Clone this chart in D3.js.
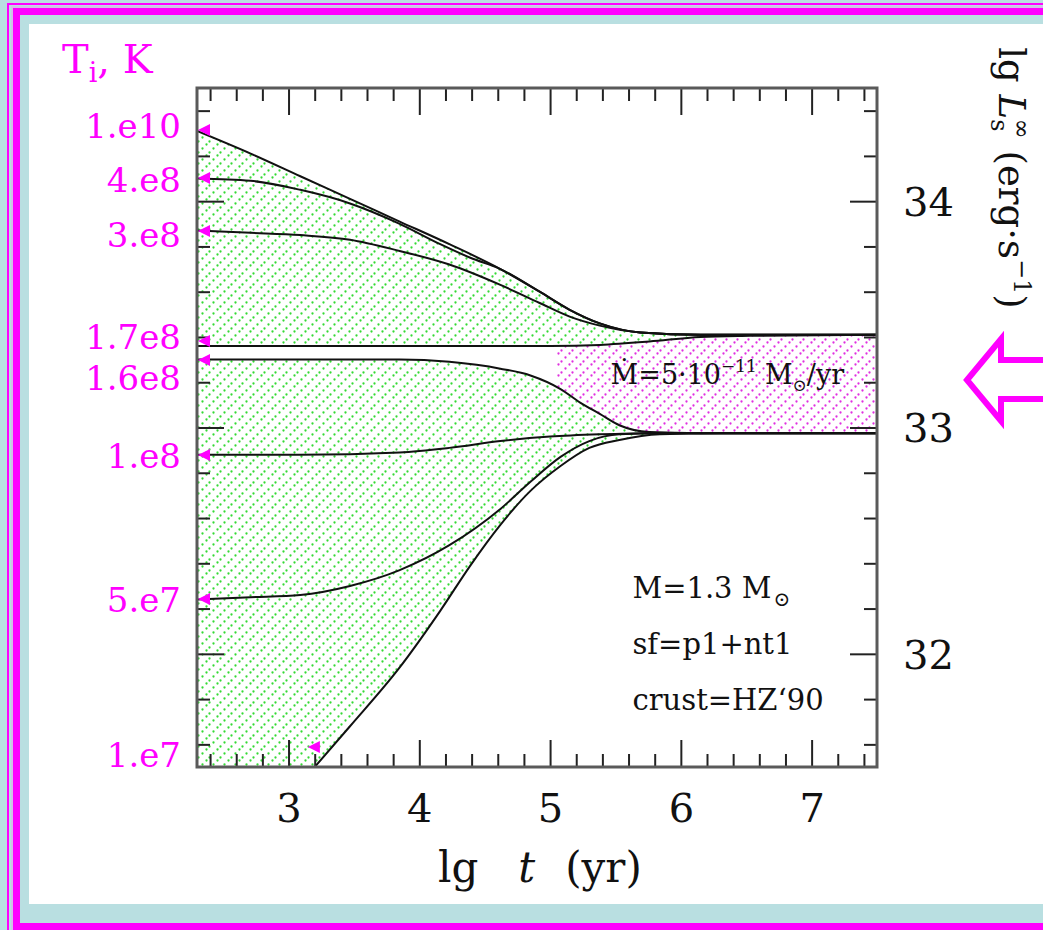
<!DOCTYPE html>
<html>
<head>
<meta charset="utf-8">
<script src="https://cdn.jsdelivr.net/npm/d3@7"></script>
<style>
html, body { margin: 0; padding: 0; background: #b9dfe1; }
svg { display: block; font-family: "DejaVu Serif", serif; }
</style>
</head>
<body>
<svg id="drawing_region"></svg>
<script>
// lg t (yr) on x, lg Ls (erg/s) on y
const xTicks = [3, 4, 5, 6, 7];
const yTicks = [32, 33, 34];

const tiLabels = ["1.e10", "4.e8", "3.e8", "1.7e8", "1.6e8", "1.e8", "5.e7", "1.e7"];
const tiLabelL = [34.334, 34.093, 33.85, 33.40, 33.219, 32.874, 32.237, 31.553];
const tiMarkT  = [2.30, 2.30, 2.30, 2.30, 2.30, 2.30, 2.30, 3.14];
const tiMarkL  = [34.314, 34.102, 33.868, 33.382, 33.298, 32.878, 32.242, 31.588];

const t_1e10 = [2.30, 2.71, 3.09, 3.47, 3.85, 4.23, 4.62, 4.92, 5.15, 5.38, 5.69, 6.15, 7.50];
const L_1e10 = [34.31, 34.21, 34.11, 34.01, 33.91, 33.81, 33.70, 33.60, 33.52, 33.46, 33.42, 33.41, 33.41];
const t_4e8  = [2.30, 2.71, 3.09, 3.47, 3.85, 4.16, 4.39, 4.62, 4.92, 5.15, 5.38, 5.69, 6.15, 7.50];
const L_4e8  = [34.10, 34.09, 34.05, 33.99, 33.90, 33.81, 33.75, 33.70, 33.60, 33.52, 33.46, 33.42, 33.41, 33.41];
const t_3e8  = [2.30, 2.71, 3.09, 3.47, 3.85, 4.23, 4.62, 4.92, 5.15, 5.38, 5.69, 6.15, 7.50];
const L_3e8  = [33.87, 33.86, 33.85, 33.83, 33.78, 33.72, 33.63, 33.55, 33.49, 33.45, 33.42, 33.41, 33.41];
const t_17e8 = [2.30, 3.00, 4.00, 5.00, 5.38, 5.76, 6.15, 6.53, 7.50];
const L_17e8 = [33.36, 33.36, 33.36, 33.36, 33.365, 33.38, 33.40, 33.405, 33.41];
const t_16e8 = [2.30, 3.09, 3.85, 4.23, 4.62, 4.85, 5.08, 5.23, 5.38, 5.53, 5.76, 6.15, 7.50];
const L_16e8 = [33.30, 33.30, 33.30, 33.29, 33.26, 33.23, 33.17, 33.11, 33.06, 33.01, 32.98, 32.975, 32.975];
const t_1e8  = [2.30, 3.09, 3.85, 4.23, 4.62, 5.00, 5.38, 5.76, 7.50];
const L_1e8  = [32.88, 32.88, 32.89, 32.91, 32.94, 32.96, 32.97, 32.975, 32.975];
const t_5e7  = [2.30, 2.71, 3.09, 3.47, 3.85, 4.23, 4.62, 4.85, 5.08, 5.30, 5.53, 5.84, 7.50];
const L_5e7  = [32.24, 32.25, 32.26, 32.30, 32.37, 32.48, 32.64, 32.76, 32.87, 32.94, 32.97, 32.975, 32.975];
const t_1e7  = [3.20, 3.47, 3.85, 4.16, 4.39, 4.62, 4.85, 5.08, 5.30, 5.53, 5.84, 6.30, 7.50];
const L_1e7  = [31.50, 31.68, 31.94, 32.19, 32.39, 32.57, 32.72, 32.83, 32.91, 32.945, 32.97, 32.975, 32.975];

const accretionStartT = 5.05;
const legendLines = ["M=1.3 M", "sf=p1+nt1", "crust=HZ\u201890"];

const W = 1043, H = 930;
const margin = {top: 88, left: 197, right: 166, bottom: 163};
const w = W - margin.left - margin.right;
const h = H - margin.top - margin.bottom;
const MAG = "#ff00ff";

const svg = d3.select('#drawing_region').attr('width', W).attr('height', H);

// page frame
svg.append('rect').attr('width', W).attr('height', H).attr('fill', '#b9dfe1');
svg.append('rect').attr('x', 8).attr('y', 4).attr('width', 1200).attr('height', 1100)
    .attr('fill', 'none').attr('stroke', MAG).attr('stroke-width', 2);
svg.append('rect').attr('x', 12).attr('y', 7).attr('width', 1200).attr('height', 1100)
    .attr('fill', 'none').attr('stroke', '#dcb4ea').attr('stroke-width', 1.5);
svg.append('rect').attr('x', 16.5).attr('y', 11.5).attr('width', 1200).attr('height', 915)
    .attr('fill', 'none').attr('stroke', MAG).attr('stroke-width', 7);
svg.append('rect').attr('x', 29).attr('y', 24).attr('width', 1100).attr('height', 880).attr('fill', '#fff');

const defs = svg.append('defs');
function dotPattern(id, color) {
    const p = defs.append('pattern').attr('id', id).attr('patternUnits', 'userSpaceOnUse')
        .attr('width', 11).attr('height', 11);
    [[1.5, 9.5], [5.5, 5.5], [9.5, 1.5]].forEach(c => {
        p.append('circle').attr('cx', c[0]).attr('cy', c[1]).attr('r', 1.15).attr('fill', color);
    });
}
dotPattern('dotsGreen', '#35d935');
dotPattern('dotsPink', '#e030e0');

const x = d3.scaleLinear().domain([2.3, 7.5]).range([0, w]);
const y = d3.scaleLinear().domain([31.5, 34.5]).range([h, 0]);

const chart = svg.append('g').attr('transform', `translate(${margin.left},${margin.top})`);

const zip = (ts, ls) => ts.map((t, i) => ({t: t, L: ls[i]}));
const curves = [
    zip(t_1e10, L_1e10), zip(t_4e8, L_4e8), zip(t_3e8, L_3e8), zip(t_17e8, L_17e8),
    zip(t_16e8, L_16e8), zip(t_1e8, L_1e8), zip(t_5e7, L_5e7), zip(t_1e7, L_1e7)
];

const line = d3.line().x(d => x(d.t)).y(d => y(d.L)).curve(d3.curveMonotoneX);
const areaAbove = d3.area().x(d => x(d.t)).y0(0).y1(d => y(d.L)).curve(d3.curveMonotoneX);
const areaBelow = d3.area().x(d => x(d.t)).y0(h).y1(d => y(d.L)).curve(d3.curveMonotoneX);

// clip regions
defs.append('clipPath').attr('id', 'plotClip')
    .append('rect').attr('width', w).attr('height', h);
defs.append('clipPath').attr('id', 'above17')
    .append('path').attr('d', areaAbove(curves[3]));
defs.append('clipPath').attr('id', 'above16')
    .append('path').attr('d', areaAbove(curves[4]));
const cp7 = defs.append('clipPath').attr('id', 'above1e7');
cp7.append('path').attr('d', areaAbove(curves[7]));
cp7.append('rect').attr('x', 0).attr('y', 0).attr('width', x(t_1e7[0])).attr('height', h);
defs.append('clipPath').attr('id', 'accretion')
    .append('rect').attr('x', x(accretionStartT)).attr('y', 0).attr('width', w).attr('height', h);

const fills = chart.append('g').attr('clip-path', 'url(#plotClip)');
fills.append('g').attr('clip-path', 'url(#above17)')
    .append('path').attr('d', areaBelow(curves[0])).attr('fill', 'url(#dotsGreen)');
fills.append('g').attr('clip-path', 'url(#above1e7)')
    .append('path').attr('d', areaBelow(curves[4])).attr('fill', 'url(#dotsGreen)');
fills.append('g').attr('clip-path', 'url(#above16)')
    .append('path').attr('clip-path', 'url(#accretion)')
    .attr('d', areaBelow(curves[3])).attr('fill', 'url(#dotsPink)');

// cooling / heating curves
chart.append('g').attr('clip-path', 'url(#plotClip)')
    .selectAll('path')
    .data(curves)
    .enter()
    .append('path')
    .attr('d', line)
    .attr('fill', 'none')
    .attr('stroke', '#111')
    .attr('stroke-width', 2);

// ticks on all four sides, pointing inward
const minorX = d3.range(24, 76, 2).map(d => d / 10).filter(d => Math.abs(d - Math.round(d)) > 1e-6);
const minorY = d3.range(316, 345, 2).map(d => d / 10).filter(d => Math.abs(d - Math.round(d)) > 1e-6);

function tickGroup(axis, tr) {
    const g = chart.append('g').attr('transform', tr).call(axis);
    g.select('.domain').remove();
    g.selectAll('line').attr('stroke', '#222').attr('stroke-width', 2);
    return g;
}
const noLab = () => '';
tickGroup(d3.axisBottom(x).tickValues(minorX).tickSize(-13).tickFormat(noLab), `translate(0,${h})`);
tickGroup(d3.axisTop(x).tickValues(minorX).tickSize(-13).tickFormat(noLab), 'translate(0,0)');
tickGroup(d3.axisTop(x).tickValues(xTicks).tickSize(-27).tickFormat(noLab), 'translate(0,0)');
tickGroup(d3.axisLeft(y).tickValues(minorY).tickSize(-13).tickFormat(noLab), 'translate(0,0)');
tickGroup(d3.axisLeft(y).tickValues(yTicks).tickSize(-27).tickFormat(noLab), 'translate(0,0)');
tickGroup(d3.axisRight(y).tickValues(minorY).tickSize(-13).tickFormat(noLab), `translate(${w},0)`);

const xb = tickGroup(d3.axisBottom(x).tickValues(xTicks).tickSize(-27).tickPadding(27).tickFormat(d3.format('d')), `translate(0,${h})`);
xb.attr('font-family', null).attr('font-size', null);
xb.selectAll('text').attr('font-size', 40).attr('fill', '#111');

const yr = tickGroup(d3.axisRight(y).tickValues(yTicks).tickSize(-27).tickPadding(26).tickFormat(d3.format('d')), `translate(${w},0)`);
yr.attr('font-family', null).attr('font-size', null);
yr.selectAll('text').attr('font-size', 40).attr('fill', '#111').attr('dy', '0.36em');

// frame
chart.append('rect').attr('width', w).attr('height', h)
    .attr('fill', 'none').attr('stroke', '#5a5a5a').attr('stroke-width', 3);

// initial temperature markers
const marks = tiLabels.map((d, i) => ({label: d, t: tiMarkT[i], L: tiMarkL[i], lL: tiLabelL[i]}));
chart.selectAll('.mark')
    .data(marks)
    .enter()
    .append('path')
    .attr('class', 'mark')
    .attr('d', d => {
        const px = x(d.t) + 1, py = y(d.L);
        return `M${px},${py}L${px + 12},${py - 6}L${px + 12},${py + 6}Z`;
    })
    .attr('fill', MAG);

chart.selectAll('.tlab')
    .data(marks)
    .enter()
    .append('text')
    .attr('class', 'tlab')
    .attr('x', -16)
    .attr('y', d => y(d.lL))
    .attr('dy', '0.36em')
    .attr('text-anchor', 'end')
    .attr('font-size', 34)
    .attr('fill', MAG)
    .text(d => d.label);

// T_i, K
const tt = svg.append('text').attr('x', 62).attr('y', 73).attr('font-size', 40).attr('fill', MAG);
tt.append('tspan').text('T');
tt.append('tspan').attr('font-size', 27).attr('dy', 9).text('i');
tt.append('tspan').attr('dy', -9).text(', K');

// axis titles
const xt = svg.append('text').attr('x', 438).attr('y', 882)
    .attr('font-size', 42).attr('fill', '#111');
xt.append('tspan').text('lg');
xt.append('tspan').attr('font-style', 'italic').attr('dx', 40).text('t');
xt.append('tspan').attr('dx', 30).text('(yr)');

const yt = svg.append('text').attr('transform', 'translate(999,178) rotate(90)')
    .attr('text-anchor', 'middle').attr('font-size', 37).attr('fill', '#111');
yt.append('tspan').text('lg ');
yt.append('tspan').attr('font-style', 'italic').text('L');
yt.append('tspan').attr('font-size', 24).attr('dy', 8).text('s');
yt.append('tspan').attr('font-size', 24).attr('dx', -13).attr('dy', -23).text('\u221E');
yt.append('tspan').attr('dy', 15).attr('dx', 12).text('(erg\u00B7s');
yt.append('tspan').attr('font-size', 24).attr('dy', -15).text('\u22121');
yt.append('tspan').attr('dy', 15).text(')');

// accretion rate label
const mt = chart.append('text').attr('x', x(accretionStartT) + 54).attr('y', y(33.19))
    .attr('font-size', 27).attr('fill', '#111');
mt.append('tspan').text('\u1E40=5\u00B710');
mt.append('tspan').attr('font-size', 17).attr('dy', -12).text('\u221211');
mt.append('tspan').attr('dy', 12).attr('dx', 8).text('M');
mt.append('tspan').attr('font-size', 17).attr('dy', 7).text('\u2299');
mt.append('tspan').attr('dy', -7).text('/yr');

// model legend
const lg = chart.append('g').attr('transform', `translate(${x(5.63)},0)`);
legendLines.forEach((s, i) => {
    const tx = lg.append('text').attr('x', 0).attr('y', 510 + i * 56)
        .attr('font-size', 29).attr('fill', '#111');
    tx.append('tspan').text(s);
    if (i === 0) tx.append('tspan').attr('font-size', 20).attr('dy', 8).attr('dx', 2).text('\u2299');
});

// big hollow arrow pointing at the accretion band
const cy = margin.top + y(33.21);
const ax = 967;
svg.append('path')
    .attr('d', `M${ax},${cy}L${ax + 34},${cy - 41}L${ax + 34},${cy - 20}L${ax + 90},${cy - 20}` +
               `L${ax + 90},${cy + 19}L${ax + 34},${cy + 19}L${ax + 34},${cy + 41}Z`)
    .attr('fill', '#fff').attr('stroke', MAG).attr('stroke-width', 6).attr('stroke-linejoin', 'miter');
</script>
</body>
</html>
